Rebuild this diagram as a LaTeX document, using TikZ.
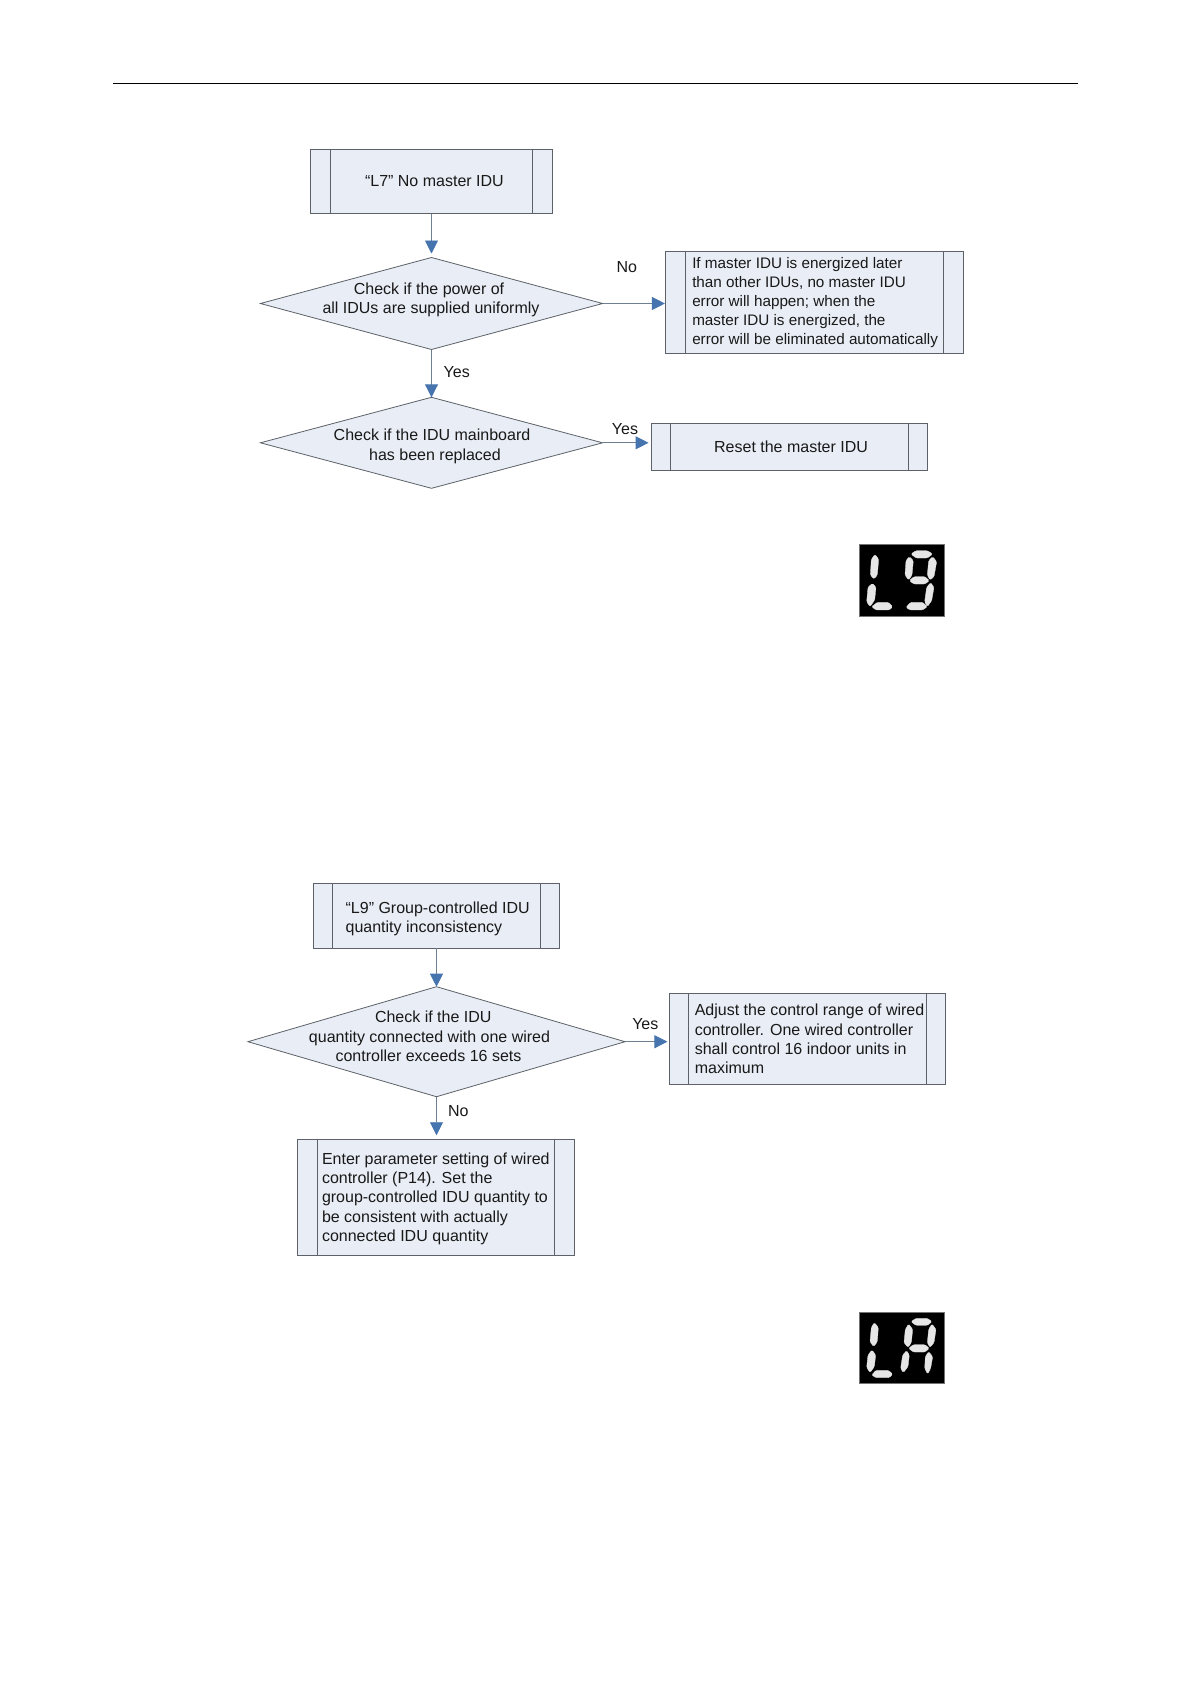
\documentclass[tikz,border=0pt]{standalone}
\usepackage{fontspec}
\setmainfont{Liberation Sans}
\usetikzlibrary{shapes.geometric,arrows.meta,calc}
\definecolor{boxfill}{HTML}{E9EDF5}
\definecolor{boxedge}{HTML}{5C6268}
\definecolor{linkgrey}{HTML}{6F7F92}
\definecolor{tipblue}{HTML}{4674AE}
\definecolor{segwhite}{HTML}{E6E6E6}
\newcommand{\ind}[1]{\hspace*{#1pt}}
\tikzset{
  x=1pt,y=-1pt,
  txt/.style={font=\fontsize{16}{19.2}\selectfont,text=black!90},
  procbox/.style={draw=boxedge,fill=boxfill,line width=0.9pt,rectangle,inner xsep=0pt,inner ysep=0pt,outer sep=0pt,
    txt,align=flush left,
    path picture={
      \draw[boxedge,line width=0.9pt]
        ([xshift=#1]path picture bounding box.north west) -- ([xshift=#1]path picture bounding box.south west)
        ([xshift=-#1]path picture bounding box.north east) -- ([xshift=-#1]path picture bounding box.south east);
    }},
  decision/.style={draw=boxedge,fill=boxfill,line width=0.8pt,diamond,inner sep=0pt,outer sep=0pt},
  dtext/.style={txt,align=center,inner sep=0pt},
  label text/.style={txt,inner sep=0pt},
  link/.style={draw=linkgrey,line width=0.9pt,-{Triangle[length=13pt,width=13pt,color=tipblue]}},
  display/.style={fill=black,draw=black!55,line width=0.6pt,rectangle,inner sep=0pt,outer sep=0pt},
  seg/.style={fill=segwhite,draw=segwhite,line width=0.3pt,line join=round,rounded corners=1.2pt},
}
\begin{document}
\begin{tikzpicture}
\useasboundingbox (0,0) rectangle (1191,1684);
\fill[white] (0,0) rectangle (1191,1684);
\coordinate (hl) at (113,83.5);
\coordinate (hr) at (1078,83.5);
\draw[black,line width=1.2pt] (hl) -- (hr);

% --- L7 chart
\node[procbox=20pt,text width=242.3pt,minimum height=64.4pt] (l7) at (431.5,181.5)
  {\ind{54.7}“L7” No master IDU};
\node[decision,minimum width=342.2pt,minimum height=92pt] (d1) at (431.5,303.5) {};
\node[dtext] (d1t) at (431,299.8) {Check if the power of\hspace*{4pt}\\all IDUs are supplied uniformly};
\node[procbox=20.5pt,text width=298.7pt,minimum height=102pt,font=\fontsize{15.25}{19.2}\selectfont] (nomaster) at (814.3,302.6)
  {\ind{27.3}If master IDU is energized later\\
   \ind{27.3}than other IDUs, no master IDU\\
   \ind{27.3}error will happen; when the\\
   \ind{27.3}master IDU is energized, the\\
   \ind{27.3}error will be eliminated automatically};
\node[decision,minimum width=342.2pt,minimum height=91pt] (d2) at (431.5,442.8) {};
\node[dtext] (d2t) at (432,446.3) {Check if the IDU mainboard\\\hspace*{6pt}has been replaced};
\node[procbox=19pt,text width=275.9pt,minimum height=46.6pt] (reset) at (789.5,447)
  {\ind{62.6}Reset the master IDU};
\draw[link,shorten >=4pt] (l7.south) -- (d1.north);
\draw[link] (d1.south) -- (d2.north);
\draw[link] (d1.east) -- (nomaster.west |- d1.east);
\draw[link,shorten >=3pt] (d2.east) -- (reset.west |- d2.east);
\node[label text] (no1) at (626.8,267.3) {No};
\node[label text] (yes1) at (456.7,372) {Yes};
\node[label text] (yes2) at (625,429) {Yes};

% --- L9 chart
\node[procbox=19.2pt,text width=245.9pt,minimum height=65pt] (l9) at (436.5,915.8)
  {\ind{32.1}\rule{0pt}{18pt}“L9” Group-controlled IDU\\\ind{32.1}quantity inconsistency};
\node[decision,minimum width=377.1pt,minimum height=110pt] (d3) at (436.5,1041.7) {};
\node[dtext] (d3t) at (429.5,1036.3) {\hspace*{7.5pt}Check if the IDU\\quantity connected with one wired\\controller exceeds 16 sets\hspace*{2pt}};
\node[procbox=19.3pt,text width=276pt,minimum height=90.6pt] (adjust) at (807.4,1039)
  {\ind{25.4}Adjust the control range of wired\\
   \ind{25.4}controller. One wired controller\\
   \ind{25.4}shall control 16 indoor units in\\
   \ind{25.4}maximum};
\node[procbox=20pt,text width=277pt,minimum height=116.7pt] (enter) at (436,1197.3)
  {\ind{24.5}\rule{0pt}{14.5pt}Enter parameter setting of wired\\
   \ind{24.5}controller (P14). Set the\\
   \ind{24.5}group-controlled IDU quantity to\\
   \ind{24.5}be consistent with actually\\
   \ind{24.5}connected IDU quantity};
\draw[link] (l9.south) -- (d3.north);
\draw[link,shorten >=2pt] (d3.east) -- (adjust.west |- d3.east);
\draw[link,shorten >=3.7pt] (d3.south) -- (enter.north -| d3.south);
\node[label text] (yes3) at (645.3,1023.7) {Yes};
\node[label text] (no3) at (458.4,1110.7) {No};

% --- L9 display
\begin{scope}[shift={(840,530)},x=0.3333pt,y=-0.3333pt]
\fill[display] (58,42) rectangle (313,258);
\foreach \s in {
  {(105,73)--(116,88)--(112,135)--(102,147)--(91,135)--(94,88)--cycle},
  {(97,160)--(108,172)--(104,210)--(90,230)--(80,215)--(84,172)--cycle},
  {(95,230)--(112,217)--(145,217)--(158,230)--(148,240)--(108,240)--cycle},
  {(213,72)--(228,62)--(262,62)--(278,72)--(262,84)--(228,84)--cycle},
  {(208,80)--(220,92)--(216,135)--(206,150)--(195,135)--(198,92)--cycle},
  {(278,80)--(290,95)--(282,140)--(270,150)--(262,135)--(266,92)--cycle},
  {(208,152)--(222,140)--(255,140)--(268,152)--(255,162)--(222,162)--cycle},
  {(272,158)--(282,172)--(275,212)--(262,230)--(254,215)--(260,172)--cycle},
  {(198,232)--(212,217)--(248,217)--(262,230)--(248,240)--(210,240)--cycle}}
  {\draw[seg] \s;}
\end{scope}

% --- LA display
\begin{scope}[shift={(840,1300)},x=0.3333pt,y=-0.3333pt]
\fill[display] (58,38) rectangle (313,250);
\foreach \s in {
  {(103,68)--(115,82)--(112,125)--(101,140)--(90,125)--(94,82)--cycle},
  {(96,150)--(107,165)--(103,200)--(90,218)--(80,202)--(84,165)--cycle},
  {(95,225)--(108,211)--(145,211)--(158,222)--(148,233)--(108,233)--cycle},
  {(213,65)--(228,55)--(262,55)--(276,65)--(262,76)--(228,76)--cycle},
  {(206,72)--(218,88)--(214,128)--(204,142)--(192,128)--(196,88)--cycle},
  {(276,72)--(288,88)--(282,128)--(270,142)--(262,128)--(266,88)--cycle},
  {(206,145)--(220,134)--(255,134)--(268,145)--(255,156)--(220,156)--cycle},
  {(200,152)--(208,165)--(204,200)--(190,218)--(182,205)--(188,165)--cycle},
  {(266,155)--(278,170)--(272,205)--(263,222)--(254,205)--(256,170)--cycle}}
  {\draw[seg] \s;}
\end{scope}
\end{tikzpicture}
\end{document}
